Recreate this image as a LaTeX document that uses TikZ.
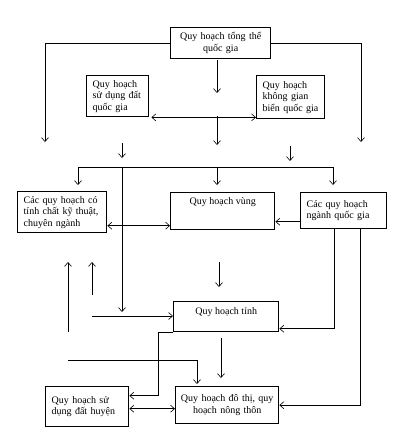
\documentclass[tikz,border=0pt]{standalone}
\usepackage{fontspec}
\setmainfont{Liberation Serif}
\usetikzlibrary{arrows.meta}

\begin{document}
\begin{tikzpicture}[x=1pt,y=-1pt,line width=0.6pt,
    >={Straight Barb[length=4pt,width=7pt]},
    font=\fontsize{10}{11.5}\selectfont,
    box/.style={draw,line width=1.4pt,anchor=north west,inner xsep=6pt,inner ysep=3pt}]
    \useasboundingbox (0,0) rectangle (406,442);
    % boxes
    \node [box,minimum width=100pt,minimum height=31pt,text width=88pt,align=center] (tongthe) at (170,27) {Quy hoạch tổng thể\\quốc gia};
    \node [box,minimum width=62pt,minimum height=41pt,text width=50pt,align=left] (sddat) at (86,75) {Quy hoạch\\sử dụng đất\\quốc gia};
    \node [box,minimum width=68pt,minimum height=43pt,text width=56pt,align=left] (kgbien) at (256,75) {Quy hoạch\\không gian\\biển quốc gia};
    \node [box,minimum width=89pt,minimum height=41pt,text width=77pt,align=left] (kythuat) at (17,191) {Các quy hoạch có\\tính chất kỹ thuật,\\chuyên ngành};
    \node [box,minimum width=104pt,inner ysep=5pt,text height=7pt,text depth=20pt] (vung) at (170,192) {Quy hoạch vùng};
    \node [box,minimum width=86pt,minimum height=36pt,text width=74pt,align=left] (nganh) at (300,192) {Các quy hoạch\\ngành quốc gia};
    \node [box,minimum width=105pt,inner ysep=6pt,text height=7pt,text depth=11pt] (tinh) at (173,301) {Quy hoạch tỉnh};
    \node [box,minimum width=83pt,minimum height=40pt,text width=71pt,align=left] (huyen) at (45,386) {Quy hoạch sử\\dụng đất huyện};
    \node [box,minimum width=103pt,minimum height=37pt,inner xsep=2pt,text width=99pt,align=center] (dothi) at (175,386) {Quy hoạch đô thị, quy\\hoạch nông thôn};
    % free ends
    \coordinate (lftend) at (45,142);
    \coordinate (rgtend) at (361,142);
    \coordinate (t1) at (217,60); \coordinate (t2) at (217,93);
    \coordinate (m1) at (217,116); \coordinate (m2) at (217,145);
    \coordinate (p1) at (122,143); \coordinate (p2) at (122,158);
    \coordinate (q1) at (290,146); \coordinate (q2) at (290,161);
    \coordinate (bl) at (78,167); \coordinate (br) at (333,167);
    \coordinate (d1) at (78,185); \coordinate (d2) at (217,185); \coordinate (d3) at (333,185);
    \coordinate (dn) at (122,312);
    \coordinate (u1) at (68,332); \coordinate (u2) at (68,262);
    \coordinate (v1) at (92,295); \coordinate (v2) at (92,262);
    \coordinate (w1) at (219,262); \coordinate (w2) at (219,287);
    \coordinate (h1) at (92,316);
    \coordinate (r1) at (68,360); \coordinate (r2) at (197,384);
    \coordinate (s1) at (221,338); \coordinate (s2) at (221,378);
    % connectors
    \draw [->] (tongthe.west) -| (lftend);
    \draw [->] (tongthe.east) -| (rgtend);
    \draw [->] (t1) -- (t2);
    \draw [<->] ([xshift=2pt]sddat.south east) coordinate (sk) -- (sk -| kgbien.west);
    \draw [->] (m1) -- (m2);
    \draw [->] (p1) -- (p2);
    \draw [->] (q1) -- (q2);
    \draw (bl) -- (br);
    \foreach \d in {d1,d2,d3}
    \draw [->] (bl -| \d) -- (\d);
    \draw [->] (bl -| dn) -- (dn);
    \draw [<->] ([yshift=-13.5pt]kythuat.east) coordinate (kv) -- (kv -| vung.west);
    \draw [->] ([yshift=-11pt]nganh.west) coordinate (nv) -- (nv -| vung.east);
    \draw [->] (u1) -- (u2);
    \draw [->] (v1) -- (v2);
    \draw [->] (w1) -- (w2);
    \draw [->] ([xshift=-9pt]nganh.south) |- ([yshift=-12pt]tinh.east);
    \draw [->] ([xshift=17pt]nganh.south) |- (dothi.east);
    \draw [->] (h1) -- (h1 -| tinh.west);
    \draw [->] (tinh.south west) -- ++(-15,0) |- ([yshift=11pt]huyen.east);
    \draw [->] (r1) -| (r2);
    \draw [->] (s1) -- (s2);
    \draw [<->] ([yshift=-2pt]huyen.east) coordinate (hd) -- (hd -| dothi.west);
\end{tikzpicture}
\end{document}
